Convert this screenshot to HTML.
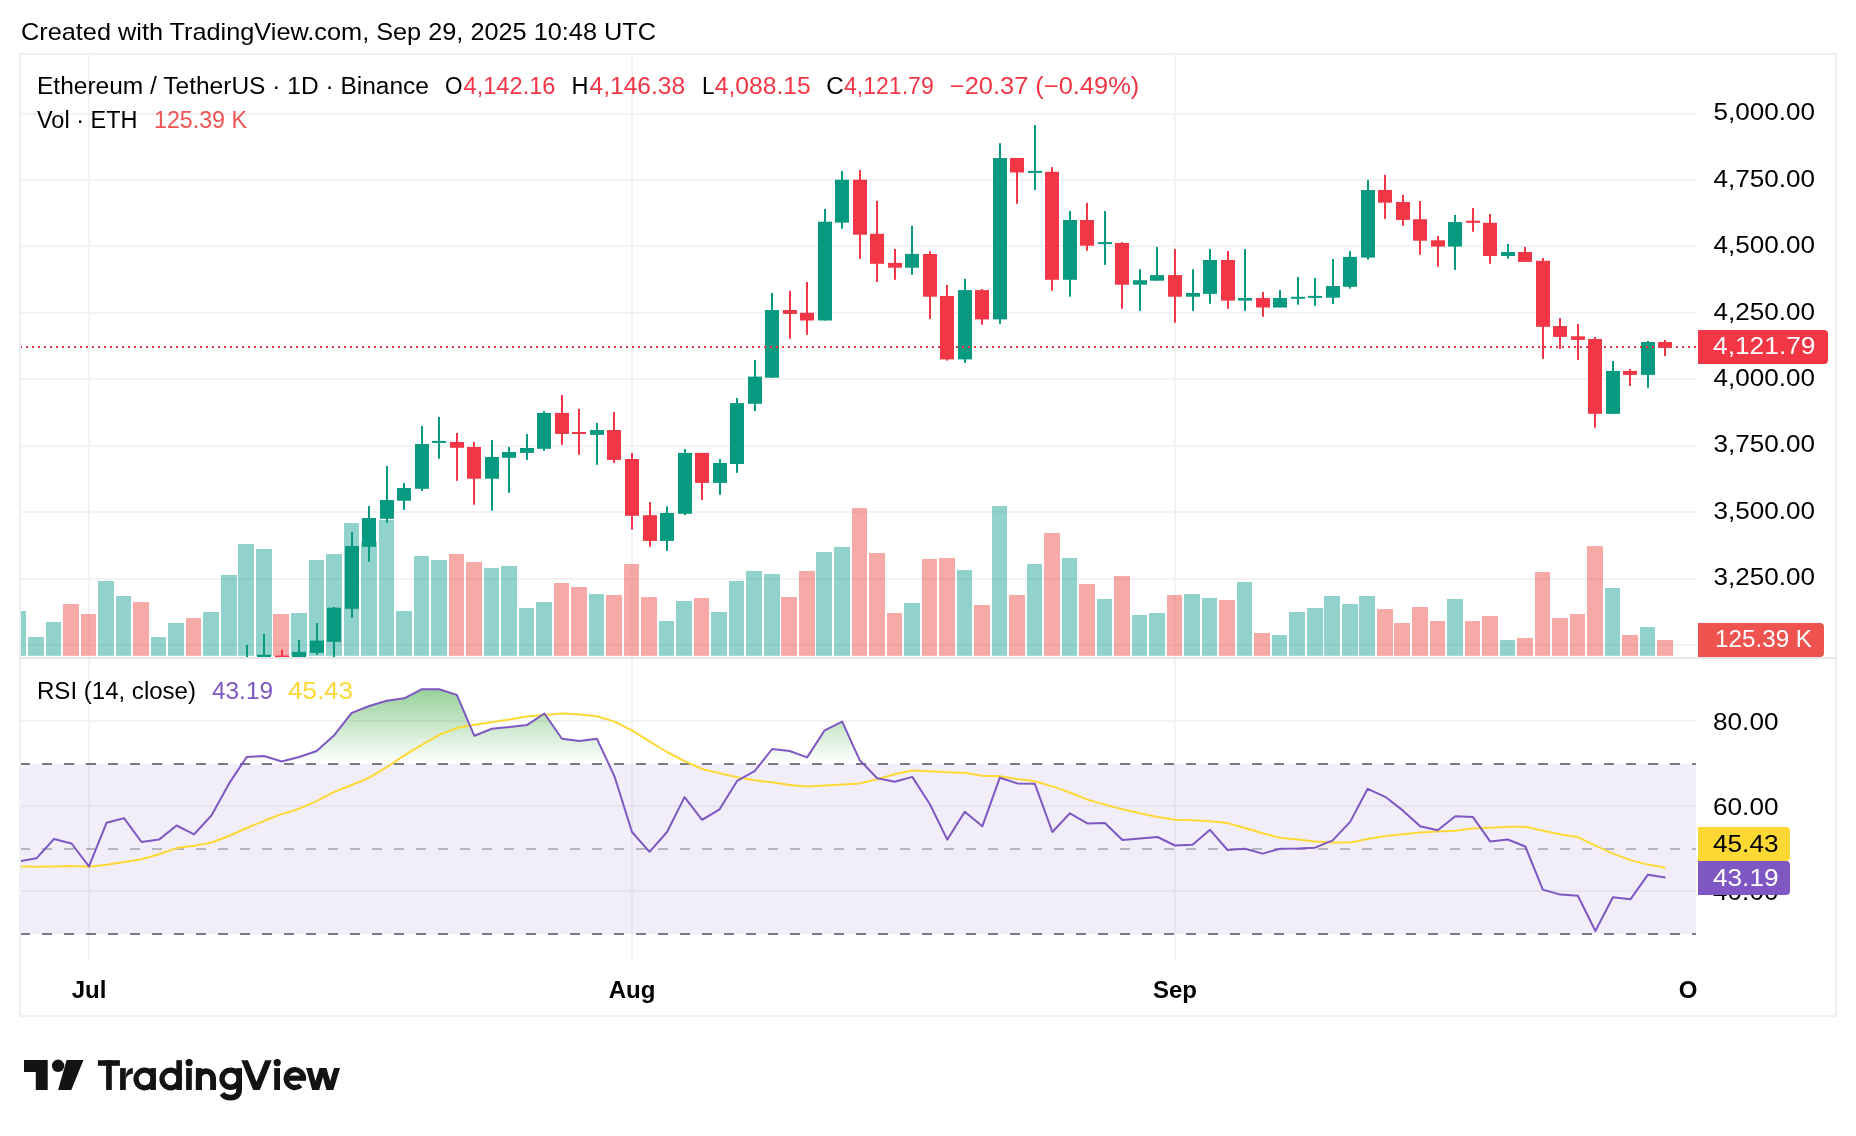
<!DOCTYPE html><html><head><meta charset="utf-8"><style>html,body{margin:0;padding:0;background:#fff;}svg{display:block;will-change:transform;}</style></head><body>
<svg width="1856" height="1136" viewBox="0 0 1856 1136" font-family='"Liberation Sans", sans-serif'>
<rect width="1856" height="1136" fill="#fff"/>
<defs>
<clipPath id="cpMain"><rect x="21" y="55" width="1675" height="602"/></clipPath>
<clipPath id="cpRsi"><rect x="21" y="659" width="1675" height="300"/></clipPath>
<clipPath id="cpOB"><rect x="21" y="600" width="1675" height="164"/></clipPath>
<linearGradient id="gOB" gradientUnits="userSpaceOnUse" x1="0" y1="636.0" x2="0" y2="763.4"><stop offset="0" stop-color="#4CAF50" stop-opacity="1"/><stop offset="1" stop-color="#4CAF50" stop-opacity="0"/></linearGradient>
</defs>
<text x="21" y="40" font-size="24" fill="#000000" textLength="635" lengthAdjust="spacingAndGlyphs">Created with TradingView.com, Sep 29, 2025 10:48 UTC</text>
<rect x="20" y="54" width="1816" height="962" fill="none" stroke="#F0F0F0" stroke-width="2"/>
<g clip-path="url(#cpMain)">
<rect x="20" y="113" width="1676" height="2" fill="#F2F2F3"/>
<rect x="20" y="179" width="1676" height="2" fill="#F2F2F3"/>
<rect x="20" y="245" width="1676" height="2" fill="#F2F2F3"/>
<rect x="20" y="312" width="1676" height="2" fill="#F2F2F3"/>
<rect x="20" y="378" width="1676" height="2" fill="#F2F2F3"/>
<rect x="20" y="445" width="1676" height="2" fill="#F2F2F3"/>
<rect x="20" y="511" width="1676" height="2" fill="#F2F2F3"/>
<rect x="20" y="578" width="1676" height="2" fill="#F2F2F3"/>
<rect x="20" y="644" width="1676" height="2" fill="#F2F2F3"/>
<rect x="88" y="54" width="2" height="604" fill="#F2F2F3"/>
<rect x="631" y="54" width="2" height="604" fill="#F2F2F3"/>
<rect x="1174" y="54" width="2" height="604" fill="#F2F2F3"/>
<rect x="11" y="611" width="15" height="44.8" fill="rgba(38,166,154,0.5)"/>
<rect x="28" y="637" width="16" height="18.8" fill="rgba(38,166,154,0.5)"/>
<rect x="46" y="622" width="15" height="33.8" fill="rgba(38,166,154,0.5)"/>
<rect x="63" y="604" width="16" height="51.8" fill="rgba(239,83,80,0.5)"/>
<rect x="81" y="614" width="15" height="41.8" fill="rgba(239,83,80,0.5)"/>
<rect x="98" y="581" width="16" height="74.8" fill="rgba(38,166,154,0.5)"/>
<rect x="116" y="596" width="15" height="59.8" fill="rgba(38,166,154,0.5)"/>
<rect x="133" y="602" width="16" height="53.8" fill="rgba(239,83,80,0.5)"/>
<rect x="151" y="637" width="15" height="18.8" fill="rgba(38,166,154,0.5)"/>
<rect x="168" y="623" width="16" height="32.8" fill="rgba(38,166,154,0.5)"/>
<rect x="186" y="618" width="15" height="37.8" fill="rgba(239,83,80,0.5)"/>
<rect x="203" y="612" width="16" height="43.8" fill="rgba(38,166,154,0.5)"/>
<rect x="221" y="575" width="16" height="80.8" fill="rgba(38,166,154,0.5)"/>
<rect x="238" y="544" width="16" height="111.8" fill="rgba(38,166,154,0.5)"/>
<rect x="256" y="549" width="16" height="106.8" fill="rgba(38,166,154,0.5)"/>
<rect x="273" y="614" width="16" height="41.8" fill="rgba(239,83,80,0.5)"/>
<rect x="291" y="613" width="16" height="42.8" fill="rgba(38,166,154,0.5)"/>
<rect x="309" y="560" width="15" height="95.8" fill="rgba(38,166,154,0.5)"/>
<rect x="326" y="554" width="16" height="101.8" fill="rgba(38,166,154,0.5)"/>
<rect x="344" y="523" width="15" height="132.8" fill="rgba(38,166,154,0.5)"/>
<rect x="361" y="542" width="16" height="113.8" fill="rgba(38,166,154,0.5)"/>
<rect x="379" y="520" width="15" height="135.8" fill="rgba(38,166,154,0.5)"/>
<rect x="396" y="611" width="16" height="44.8" fill="rgba(38,166,154,0.5)"/>
<rect x="414" y="556" width="15" height="99.8" fill="rgba(38,166,154,0.5)"/>
<rect x="431" y="560" width="16" height="95.8" fill="rgba(38,166,154,0.5)"/>
<rect x="449" y="554" width="15" height="101.8" fill="rgba(239,83,80,0.5)"/>
<rect x="466" y="562" width="16" height="93.8" fill="rgba(239,83,80,0.5)"/>
<rect x="484" y="568" width="15" height="87.8" fill="rgba(38,166,154,0.5)"/>
<rect x="501" y="566" width="16" height="89.8" fill="rgba(38,166,154,0.5)"/>
<rect x="519" y="608" width="15" height="47.8" fill="rgba(38,166,154,0.5)"/>
<rect x="536" y="602" width="16" height="53.8" fill="rgba(38,166,154,0.5)"/>
<rect x="554" y="583" width="15" height="72.8" fill="rgba(239,83,80,0.5)"/>
<rect x="571" y="587" width="16" height="68.8" fill="rgba(239,83,80,0.5)"/>
<rect x="589" y="594" width="15" height="61.8" fill="rgba(38,166,154,0.5)"/>
<rect x="606" y="595" width="16" height="60.8" fill="rgba(239,83,80,0.5)"/>
<rect x="624" y="564" width="15" height="91.8" fill="rgba(239,83,80,0.5)"/>
<rect x="641" y="597" width="16" height="58.8" fill="rgba(239,83,80,0.5)"/>
<rect x="659" y="621" width="15" height="34.8" fill="rgba(38,166,154,0.5)"/>
<rect x="676" y="601" width="16" height="54.8" fill="rgba(38,166,154,0.5)"/>
<rect x="694" y="598" width="15" height="57.8" fill="rgba(239,83,80,0.5)"/>
<rect x="711" y="612" width="16" height="43.8" fill="rgba(38,166,154,0.5)"/>
<rect x="729" y="581" width="15" height="74.8" fill="rgba(38,166,154,0.5)"/>
<rect x="746" y="571" width="16" height="84.8" fill="rgba(38,166,154,0.5)"/>
<rect x="764" y="574" width="16" height="81.8" fill="rgba(38,166,154,0.5)"/>
<rect x="781" y="597" width="16" height="58.8" fill="rgba(239,83,80,0.5)"/>
<rect x="799" y="571" width="16" height="84.8" fill="rgba(239,83,80,0.5)"/>
<rect x="816" y="552" width="16" height="103.8" fill="rgba(38,166,154,0.5)"/>
<rect x="834" y="547" width="16" height="108.8" fill="rgba(38,166,154,0.5)"/>
<rect x="852" y="508" width="15" height="147.8" fill="rgba(239,83,80,0.5)"/>
<rect x="869" y="553" width="16" height="102.8" fill="rgba(239,83,80,0.5)"/>
<rect x="887" y="613" width="15" height="42.8" fill="rgba(239,83,80,0.5)"/>
<rect x="904" y="603" width="16" height="52.8" fill="rgba(38,166,154,0.5)"/>
<rect x="922" y="559" width="15" height="96.8" fill="rgba(239,83,80,0.5)"/>
<rect x="939" y="558" width="16" height="97.8" fill="rgba(239,83,80,0.5)"/>
<rect x="957" y="570" width="15" height="85.8" fill="rgba(38,166,154,0.5)"/>
<rect x="974" y="605" width="16" height="50.8" fill="rgba(239,83,80,0.5)"/>
<rect x="992" y="506" width="15" height="149.8" fill="rgba(38,166,154,0.5)"/>
<rect x="1009" y="595" width="16" height="60.8" fill="rgba(239,83,80,0.5)"/>
<rect x="1027" y="564" width="15" height="91.8" fill="rgba(38,166,154,0.5)"/>
<rect x="1044" y="533" width="16" height="122.8" fill="rgba(239,83,80,0.5)"/>
<rect x="1062" y="558" width="15" height="97.8" fill="rgba(38,166,154,0.5)"/>
<rect x="1079" y="584" width="16" height="71.8" fill="rgba(239,83,80,0.5)"/>
<rect x="1097" y="599" width="15" height="56.8" fill="rgba(38,166,154,0.5)"/>
<rect x="1114" y="576" width="16" height="79.8" fill="rgba(239,83,80,0.5)"/>
<rect x="1132" y="615" width="15" height="40.8" fill="rgba(38,166,154,0.5)"/>
<rect x="1149" y="613" width="16" height="42.8" fill="rgba(38,166,154,0.5)"/>
<rect x="1167" y="595" width="15" height="60.8" fill="rgba(239,83,80,0.5)"/>
<rect x="1184" y="594" width="16" height="61.8" fill="rgba(38,166,154,0.5)"/>
<rect x="1202" y="598" width="15" height="57.8" fill="rgba(38,166,154,0.5)"/>
<rect x="1219" y="600" width="16" height="55.8" fill="rgba(239,83,80,0.5)"/>
<rect x="1237" y="582" width="15" height="73.8" fill="rgba(38,166,154,0.5)"/>
<rect x="1254" y="633" width="16" height="22.8" fill="rgba(239,83,80,0.5)"/>
<rect x="1272" y="635" width="15" height="20.8" fill="rgba(38,166,154,0.5)"/>
<rect x="1289" y="612" width="16" height="43.8" fill="rgba(38,166,154,0.5)"/>
<rect x="1307" y="608" width="16" height="47.8" fill="rgba(38,166,154,0.5)"/>
<rect x="1324" y="596" width="16" height="59.8" fill="rgba(38,166,154,0.5)"/>
<rect x="1342" y="604" width="16" height="51.8" fill="rgba(38,166,154,0.5)"/>
<rect x="1359" y="596" width="16" height="59.8" fill="rgba(38,166,154,0.5)"/>
<rect x="1377" y="609" width="16" height="46.8" fill="rgba(239,83,80,0.5)"/>
<rect x="1394" y="623" width="16" height="32.8" fill="rgba(239,83,80,0.5)"/>
<rect x="1412" y="607" width="16" height="48.8" fill="rgba(239,83,80,0.5)"/>
<rect x="1430" y="621" width="15" height="34.8" fill="rgba(239,83,80,0.5)"/>
<rect x="1447" y="599" width="16" height="56.8" fill="rgba(38,166,154,0.5)"/>
<rect x="1465" y="621" width="15" height="34.8" fill="rgba(239,83,80,0.5)"/>
<rect x="1482" y="616" width="16" height="39.8" fill="rgba(239,83,80,0.5)"/>
<rect x="1500" y="640" width="15" height="15.8" fill="rgba(38,166,154,0.5)"/>
<rect x="1517" y="638" width="16" height="17.8" fill="rgba(239,83,80,0.5)"/>
<rect x="1535" y="572" width="15" height="83.8" fill="rgba(239,83,80,0.5)"/>
<rect x="1552" y="618" width="16" height="37.8" fill="rgba(239,83,80,0.5)"/>
<rect x="1570" y="614" width="15" height="41.8" fill="rgba(239,83,80,0.5)"/>
<rect x="1587" y="546" width="16" height="109.8" fill="rgba(239,83,80,0.5)"/>
<rect x="1605" y="588" width="15" height="67.8" fill="rgba(38,166,154,0.5)"/>
<rect x="1622" y="635" width="16" height="20.8" fill="rgba(239,83,80,0.5)"/>
<rect x="1640" y="627" width="15" height="28.8" fill="rgba(38,166,154,0.5)"/>
<rect x="1657" y="640" width="16" height="15.8" fill="rgba(239,83,80,0.5)"/>
<rect x="246" y="644.8" width="2" height="15.2" fill="#089981"/>
<rect x="240" y="660" width="14" height="2.0" fill="#089981"/>
<rect x="263" y="633.9" width="2" height="26.1" fill="#089981"/>
<rect x="257" y="654.8" width="14" height="5.2" fill="#089981"/>
<rect x="281" y="649.8" width="2" height="10.2" fill="#F23645"/>
<rect x="275" y="655.5" width="14" height="4.5" fill="#F23645"/>
<rect x="298" y="639.9" width="2" height="20.1" fill="#089981"/>
<rect x="292" y="651.9" width="14" height="8.1" fill="#089981"/>
<rect x="316" y="623" width="2" height="31.8" fill="#089981"/>
<rect x="310" y="640.6" width="14" height="12.3" fill="#089981"/>
<rect x="333" y="607" width="2" height="53.0" fill="#089981"/>
<rect x="327" y="607.7" width="14" height="34.1" fill="#089981"/>
<rect x="351" y="531.9" width="2" height="85.8" fill="#089981"/>
<rect x="345" y="546" width="14" height="62.8" fill="#089981"/>
<rect x="368" y="506" width="2" height="55.6" fill="#089981"/>
<rect x="362" y="518" width="14" height="28.8" fill="#089981"/>
<rect x="386" y="466" width="2" height="56.9" fill="#089981"/>
<rect x="380" y="500" width="14" height="18.8" fill="#089981"/>
<rect x="403" y="482.9" width="2" height="27.0" fill="#089981"/>
<rect x="397" y="488" width="14" height="12.7" fill="#089981"/>
<rect x="421" y="426" width="2" height="65.0" fill="#089981"/>
<rect x="415" y="444" width="14" height="44.8" fill="#089981"/>
<rect x="438" y="417" width="2" height="41.8" fill="#089981"/>
<rect x="432" y="440.9" width="14" height="2.0" fill="#089981"/>
<rect x="456" y="433" width="2" height="47.8" fill="#F23645"/>
<rect x="450" y="442" width="14" height="5.8" fill="#F23645"/>
<rect x="473" y="442" width="2" height="62.6" fill="#F23645"/>
<rect x="467" y="447" width="14" height="31.7" fill="#F23645"/>
<rect x="491" y="440" width="2" height="70.6" fill="#089981"/>
<rect x="485" y="457" width="14" height="21.7" fill="#089981"/>
<rect x="508" y="447" width="2" height="45.8" fill="#089981"/>
<rect x="502" y="452" width="14" height="5.8" fill="#089981"/>
<rect x="526" y="434" width="2" height="25.9" fill="#089981"/>
<rect x="520" y="448" width="14" height="4.9" fill="#089981"/>
<rect x="543" y="411" width="2" height="39.9" fill="#089981"/>
<rect x="537" y="412.9" width="14" height="35.9" fill="#089981"/>
<rect x="561" y="395" width="2" height="49.9" fill="#F23645"/>
<rect x="555" y="412.9" width="14" height="21.0" fill="#F23645"/>
<rect x="578" y="409" width="2" height="45.8" fill="#F23645"/>
<rect x="572" y="432" width="14" height="2.0" fill="#F23645"/>
<rect x="596" y="423" width="2" height="41.8" fill="#089981"/>
<rect x="590" y="430" width="14" height="4.9" fill="#089981"/>
<rect x="613" y="412" width="2" height="50.9" fill="#F23645"/>
<rect x="607" y="430" width="14" height="29.9" fill="#F23645"/>
<rect x="631" y="453.1" width="2" height="76.6" fill="#F23645"/>
<rect x="625" y="459" width="14" height="56.8" fill="#F23645"/>
<rect x="649" y="502.1" width="2" height="44.7" fill="#F23645"/>
<rect x="643" y="515.2" width="14" height="25.7" fill="#F23645"/>
<rect x="666" y="506.3" width="2" height="44.6" fill="#089981"/>
<rect x="660" y="513" width="14" height="27.9" fill="#089981"/>
<rect x="684" y="449.1" width="2" height="66.1" fill="#089981"/>
<rect x="678" y="452.9" width="14" height="60.9" fill="#089981"/>
<rect x="701" y="452.9" width="2" height="47.0" fill="#F23645"/>
<rect x="695" y="452.9" width="14" height="30.0" fill="#F23645"/>
<rect x="719" y="459" width="2" height="35.9" fill="#089981"/>
<rect x="713" y="463" width="14" height="19.9" fill="#089981"/>
<rect x="736" y="398.1" width="2" height="74.7" fill="#089981"/>
<rect x="730" y="403.1" width="14" height="60.9" fill="#089981"/>
<rect x="754" y="360.1" width="2" height="50.9" fill="#089981"/>
<rect x="748" y="376.6" width="14" height="27.2" fill="#089981"/>
<rect x="771" y="293" width="2" height="84.7" fill="#089981"/>
<rect x="765" y="310" width="14" height="67.7" fill="#089981"/>
<rect x="789" y="290.8" width="2" height="48.0" fill="#F23645"/>
<rect x="783" y="310" width="14" height="3.9" fill="#F23645"/>
<rect x="806" y="282" width="2" height="52.8" fill="#F23645"/>
<rect x="800" y="312.8" width="14" height="7.7" fill="#F23645"/>
<rect x="824" y="209" width="2" height="111.5" fill="#089981"/>
<rect x="818" y="221.7" width="14" height="98.8" fill="#089981"/>
<rect x="841" y="170.9" width="2" height="57.9" fill="#089981"/>
<rect x="835" y="179.7" width="14" height="42.9" fill="#089981"/>
<rect x="859" y="170" width="2" height="88.9" fill="#F23645"/>
<rect x="853" y="179.7" width="14" height="55.0" fill="#F23645"/>
<rect x="876" y="201" width="2" height="81.0" fill="#F23645"/>
<rect x="870" y="233.8" width="14" height="30.0" fill="#F23645"/>
<rect x="894" y="249" width="2" height="30.8" fill="#F23645"/>
<rect x="888" y="262.9" width="14" height="4.8" fill="#F23645"/>
<rect x="911" y="225.9" width="2" height="48.9" fill="#089981"/>
<rect x="905" y="253.9" width="14" height="13.8" fill="#089981"/>
<rect x="929" y="251.3" width="2" height="67.6" fill="#F23645"/>
<rect x="923" y="254" width="14" height="42.7" fill="#F23645"/>
<rect x="946" y="285" width="2" height="75.6" fill="#F23645"/>
<rect x="940" y="296" width="14" height="63.4" fill="#F23645"/>
<rect x="964" y="278.9" width="2" height="84.0" fill="#089981"/>
<rect x="958" y="290.1" width="14" height="69.3" fill="#089981"/>
<rect x="981" y="289" width="2" height="35.6" fill="#F23645"/>
<rect x="975" y="290.1" width="14" height="29.3" fill="#F23645"/>
<rect x="999" y="143.2" width="2" height="180.8" fill="#089981"/>
<rect x="993" y="158" width="14" height="161.4" fill="#089981"/>
<rect x="1016" y="158" width="2" height="45.8" fill="#F23645"/>
<rect x="1010" y="158" width="14" height="14.5" fill="#F23645"/>
<rect x="1034" y="125.1" width="2" height="65.0" fill="#089981"/>
<rect x="1028" y="170.9" width="14" height="2.0" fill="#089981"/>
<rect x="1051" y="167.2" width="2" height="123.6" fill="#F23645"/>
<rect x="1045" y="171.8" width="14" height="108.0" fill="#F23645"/>
<rect x="1069" y="210.9" width="2" height="85.8" fill="#089981"/>
<rect x="1063" y="220" width="14" height="59.8" fill="#089981"/>
<rect x="1086" y="202.9" width="2" height="47.8" fill="#F23645"/>
<rect x="1080" y="220" width="14" height="25.7" fill="#F23645"/>
<rect x="1104" y="211.1" width="2" height="53.8" fill="#089981"/>
<rect x="1098" y="242.1" width="14" height="2.0" fill="#089981"/>
<rect x="1121" y="242.1" width="2" height="66.7" fill="#F23645"/>
<rect x="1115" y="243" width="14" height="41.7" fill="#F23645"/>
<rect x="1139" y="269.2" width="2" height="41.6" fill="#089981"/>
<rect x="1133" y="280.2" width="14" height="4.5" fill="#089981"/>
<rect x="1156" y="247" width="2" height="33.7" fill="#089981"/>
<rect x="1150" y="275.1" width="14" height="5.6" fill="#089981"/>
<rect x="1174" y="249.1" width="2" height="73.6" fill="#F23645"/>
<rect x="1168" y="275.1" width="14" height="21.6" fill="#F23645"/>
<rect x="1192" y="269.2" width="2" height="41.6" fill="#089981"/>
<rect x="1186" y="293" width="14" height="3.7" fill="#089981"/>
<rect x="1209" y="249.1" width="2" height="54.7" fill="#089981"/>
<rect x="1203" y="260" width="14" height="33.9" fill="#089981"/>
<rect x="1227" y="251" width="2" height="57.8" fill="#F23645"/>
<rect x="1221" y="260" width="14" height="40.6" fill="#F23645"/>
<rect x="1244" y="249.1" width="2" height="61.7" fill="#089981"/>
<rect x="1238" y="298" width="14" height="2.6" fill="#089981"/>
<rect x="1262" y="292" width="2" height="24.7" fill="#F23645"/>
<rect x="1256" y="298" width="14" height="9.5" fill="#F23645"/>
<rect x="1279" y="290.1" width="2" height="17.4" fill="#089981"/>
<rect x="1273" y="298" width="14" height="9.5" fill="#089981"/>
<rect x="1297" y="277" width="2" height="27.7" fill="#089981"/>
<rect x="1291" y="296.8" width="14" height="2.0" fill="#089981"/>
<rect x="1314" y="278" width="2" height="27.8" fill="#089981"/>
<rect x="1308" y="295.9" width="14" height="2.0" fill="#089981"/>
<rect x="1332" y="259" width="2" height="45.0" fill="#089981"/>
<rect x="1326" y="286" width="14" height="11.7" fill="#089981"/>
<rect x="1349" y="251.1" width="2" height="37.5" fill="#089981"/>
<rect x="1343" y="256.9" width="14" height="29.9" fill="#089981"/>
<rect x="1367" y="180" width="2" height="79.7" fill="#089981"/>
<rect x="1361" y="190" width="14" height="67.6" fill="#089981"/>
<rect x="1384" y="174.8" width="2" height="44.1" fill="#F23645"/>
<rect x="1378" y="190" width="14" height="12.7" fill="#F23645"/>
<rect x="1402" y="194.9" width="2" height="30.9" fill="#F23645"/>
<rect x="1396" y="202" width="14" height="17.9" fill="#F23645"/>
<rect x="1419" y="201" width="2" height="53.8" fill="#F23645"/>
<rect x="1413" y="219.2" width="14" height="21.5" fill="#F23645"/>
<rect x="1437" y="236" width="2" height="30.8" fill="#F23645"/>
<rect x="1431" y="240.3" width="14" height="6.3" fill="#F23645"/>
<rect x="1454" y="214.9" width="2" height="55.0" fill="#089981"/>
<rect x="1448" y="222" width="14" height="24.6" fill="#089981"/>
<rect x="1472" y="208" width="2" height="23.7" fill="#F23645"/>
<rect x="1466" y="220.7" width="14" height="2.1" fill="#F23645"/>
<rect x="1489" y="214" width="2" height="49.8" fill="#F23645"/>
<rect x="1483" y="222.8" width="14" height="33.2" fill="#F23645"/>
<rect x="1507" y="244" width="2" height="14.7" fill="#089981"/>
<rect x="1501" y="252" width="14" height="4.0" fill="#089981"/>
<rect x="1524" y="246.9" width="2" height="15.0" fill="#F23645"/>
<rect x="1518" y="252" width="14" height="9.9" fill="#F23645"/>
<rect x="1542" y="258.1" width="2" height="100.8" fill="#F23645"/>
<rect x="1536" y="260.8" width="14" height="66.0" fill="#F23645"/>
<rect x="1559" y="317.9" width="2" height="31.1" fill="#F23645"/>
<rect x="1553" y="326.1" width="14" height="10.8" fill="#F23645"/>
<rect x="1577" y="324" width="2" height="35.9" fill="#F23645"/>
<rect x="1571" y="336.3" width="14" height="3.6" fill="#F23645"/>
<rect x="1594" y="337" width="2" height="90.7" fill="#F23645"/>
<rect x="1588" y="339" width="14" height="74.8" fill="#F23645"/>
<rect x="1612" y="361" width="2" height="52.8" fill="#089981"/>
<rect x="1606" y="370.9" width="14" height="42.9" fill="#089981"/>
<rect x="1629" y="369" width="2" height="16.9" fill="#F23645"/>
<rect x="1623" y="370.9" width="14" height="4.0" fill="#F23645"/>
<rect x="1647" y="341" width="2" height="46.9" fill="#089981"/>
<rect x="1641" y="342" width="14" height="32.9" fill="#089981"/>
<rect x="1664" y="340" width="2" height="16.0" fill="#F23645"/>
<rect x="1658" y="342" width="14" height="5.9" fill="#F23645"/>
<line x1="20" y1="347" x2="1696" y2="347" stroke="#F23645" stroke-width="2" stroke-dasharray="2 4"/>
</g>
<rect x="20" y="657" width="1816" height="2" fill="#E6E6E6"/>
<g clip-path="url(#cpRsi)">
<rect x="20" y="720" width="1676" height="2" fill="#F2F2F3"/>
<rect x="20" y="805" width="1676" height="2" fill="#F2F2F3"/>
<rect x="20" y="890" width="1676" height="2" fill="#F2F2F3"/>
<rect x="88" y="659" width="2" height="300" fill="#F2F2F3"/>
<rect x="631" y="659" width="2" height="300" fill="#F2F2F3"/>
<rect x="1174" y="659" width="2" height="300" fill="#F2F2F3"/>
<rect x="20" y="764.00" width="1676" height="170.00" fill="rgba(126,87,194,0.1)"/>
<line x1="20" y1="764.00" x2="1696" y2="764.00" stroke="#787B86" stroke-width="2" stroke-dasharray="10 12"/>
<line x1="20" y1="934.00" x2="1696" y2="934.00" stroke="#787B86" stroke-width="2" stroke-dasharray="10 12"/>
<line x1="20" y1="849.00" x2="1696" y2="849.00" stroke="rgba(120,123,134,0.5)" stroke-width="2" stroke-dasharray="10 12"/>
<g clip-path="url(#cpOB)"><polygon points="18.94,764.00 18.94,861.30 36.45,858.30 53.97,839.00 71.48,843.50 89.00,866.40 106.52,822.80 124.03,818.20 141.55,842.00 159.06,839.60 176.58,825.50 194.10,834.40 211.61,815.30 229.13,783.40 246.64,757.00 264.16,756.00 281.68,761.50 299.19,757.00 316.71,751.00 334.22,735.20 351.74,712.90 369.26,706.00 386.77,700.80 404.29,698.30 421.80,689.20 439.32,689.20 456.84,694.90 474.35,735.80 491.87,728.70 509.38,727.10 526.90,725.10 544.42,713.50 561.93,738.80 579.45,740.90 596.96,738.80 614.48,776.30 632.00,832.00 649.51,851.80 667.03,832.00 684.54,797.10 702.06,819.80 719.58,809.30 737.09,780.90 754.61,771.20 772.12,749.00 789.64,751.00 807.16,757.40 824.67,730.30 842.19,721.60 859.70,760.10 877.22,778.30 894.74,781.70 912.25,776.90 929.77,804.00 947.28,839.60 964.80,811.70 982.32,826.30 999.83,777.70 1017.35,783.40 1034.86,783.80 1052.38,832.00 1069.90,813.30 1087.41,823.40 1104.93,823.00 1122.44,840.00 1139.96,838.40 1157.48,837.00 1174.99,845.50 1192.51,844.80 1210.02,829.80 1227.54,850.00 1245.06,848.80 1262.57,853.60 1280.09,848.80 1297.60,848.60 1315.12,847.70 1332.64,840.40 1350.15,821.90 1367.67,788.80 1385.18,796.80 1402.70,810.40 1420.22,826.30 1437.73,830.30 1455.25,816.20 1472.76,816.90 1490.28,841.60 1507.80,839.50 1525.31,846.50 1542.83,889.60 1560.34,894.60 1577.86,895.80 1595.38,931.00 1612.89,897.20 1630.41,899.30 1647.92,874.70 1665.44,877.50 1665.44,764.00" fill="url(#gOB)"/></g>
<polyline points="18.94,866.40 36.45,866.80 53.97,866.40 71.48,866.00 89.00,866.80 106.52,864.70 124.03,861.90 141.55,859.30 159.06,854.20 176.58,848.10 194.10,845.70 211.61,842.50 229.13,836.00 246.64,828.00 264.16,820.80 281.68,814.10 299.19,808.70 316.71,801.20 334.22,791.90 351.74,785.00 369.26,777.70 386.77,767.20 404.29,755.40 421.80,744.90 439.32,734.80 456.84,728.10 474.35,724.70 491.87,722.20 509.38,719.60 526.90,716.60 544.42,714.90 561.93,713.50 579.45,714.50 596.96,716.20 614.48,721.60 632.00,730.30 649.51,741.30 667.03,752.00 684.54,761.10 702.06,769.00 719.58,773.20 737.09,777.30 754.61,780.30 772.12,782.30 789.64,785.00 807.16,786.40 824.67,785.40 842.19,784.40 859.70,783.40 877.22,779.30 894.74,774.30 912.25,770.60 929.77,771.20 947.28,772.20 964.80,772.80 982.32,775.70 999.83,776.30 1017.35,778.90 1034.86,781.30 1052.38,786.40 1069.90,792.50 1087.41,799.60 1104.93,804.60 1122.44,809.30 1139.96,813.30 1157.48,817.00 1174.99,819.80 1192.51,820.30 1210.02,821.30 1227.54,823.10 1245.06,828.00 1262.57,833.30 1280.09,837.70 1297.60,839.50 1315.12,841.60 1332.64,842.50 1350.15,842.50 1367.67,839.00 1385.18,836.00 1402.70,834.20 1420.22,832.40 1437.73,831.50 1455.25,830.70 1472.76,828.40 1490.28,827.70 1507.80,826.80 1525.31,826.80 1542.83,830.70 1560.34,834.20 1577.86,837.20 1595.38,845.60 1612.89,853.60 1630.41,860.10 1647.92,864.60 1665.44,867.70" fill="none" stroke="#FDD835" stroke-width="2" stroke-linejoin="round"/>
<polyline points="18.94,861.30 36.45,858.30 53.97,839.00 71.48,843.50 89.00,866.40 106.52,822.80 124.03,818.20 141.55,842.00 159.06,839.60 176.58,825.50 194.10,834.40 211.61,815.30 229.13,783.40 246.64,757.00 264.16,756.00 281.68,761.50 299.19,757.00 316.71,751.00 334.22,735.20 351.74,712.90 369.26,706.00 386.77,700.80 404.29,698.30 421.80,689.20 439.32,689.20 456.84,694.90 474.35,735.80 491.87,728.70 509.38,727.10 526.90,725.10 544.42,713.50 561.93,738.80 579.45,740.90 596.96,738.80 614.48,776.30 632.00,832.00 649.51,851.80 667.03,832.00 684.54,797.10 702.06,819.80 719.58,809.30 737.09,780.90 754.61,771.20 772.12,749.00 789.64,751.00 807.16,757.40 824.67,730.30 842.19,721.60 859.70,760.10 877.22,778.30 894.74,781.70 912.25,776.90 929.77,804.00 947.28,839.60 964.80,811.70 982.32,826.30 999.83,777.70 1017.35,783.40 1034.86,783.80 1052.38,832.00 1069.90,813.30 1087.41,823.40 1104.93,823.00 1122.44,840.00 1139.96,838.40 1157.48,837.00 1174.99,845.50 1192.51,844.80 1210.02,829.80 1227.54,850.00 1245.06,848.80 1262.57,853.60 1280.09,848.80 1297.60,848.60 1315.12,847.70 1332.64,840.40 1350.15,821.90 1367.67,788.80 1385.18,796.80 1402.70,810.40 1420.22,826.30 1437.73,830.30 1455.25,816.20 1472.76,816.90 1490.28,841.60 1507.80,839.50 1525.31,846.50 1542.83,889.60 1560.34,894.60 1577.86,895.80 1595.38,931.00 1612.89,897.20 1630.41,899.30 1647.92,874.70 1665.44,877.50" fill="none" stroke="#7E57C2" stroke-width="2" stroke-linejoin="round"/>
</g>
<text x="37" y="94" font-size="23.5" fill="#000000" textLength="392" lengthAdjust="spacingAndGlyphs">Ethereum / TetherUS · 1D · Binance</text>
<text x="445" y="94" font-size="23.5" fill="#000000" textLength="17.5" lengthAdjust="spacingAndGlyphs">O</text>
<text x="463.5" y="94" font-size="23.5" fill="#F23645" textLength="92" lengthAdjust="spacingAndGlyphs">4,142.16</text>
<text x="571.5" y="94" font-size="23.5" fill="#000000" textLength="17" lengthAdjust="spacingAndGlyphs">H</text>
<text x="589.5" y="94" font-size="23.5" fill="#F23645" textLength="95.7" lengthAdjust="spacingAndGlyphs">4,146.38</text>
<text x="702" y="94" font-size="23.5" fill="#000000" textLength="12.5" lengthAdjust="spacingAndGlyphs">L</text>
<text x="714.8" y="94" font-size="23.5" fill="#F23645" textLength="96" lengthAdjust="spacingAndGlyphs">4,088.15</text>
<text x="826.3" y="94" font-size="23.5" fill="#000000" textLength="17.5" lengthAdjust="spacingAndGlyphs">C</text>
<text x="844" y="94" font-size="23.5" fill="#F23645" textLength="89.7" lengthAdjust="spacingAndGlyphs">4,121.79</text>
<text x="949.8" y="94" font-size="23.5" fill="#F23645" textLength="189.5" lengthAdjust="spacingAndGlyphs">−20.37 (−0.49%)</text>
<text x="37" y="128" font-size="23.5" fill="#000000" textLength="100.5" lengthAdjust="spacingAndGlyphs">Vol · ETH</text>
<text x="154" y="128" font-size="23.5" fill="#F05353" textLength="93" lengthAdjust="spacingAndGlyphs">125.39 K</text>
<text x="37" y="699" font-size="23.5" fill="#000000" textLength="159" lengthAdjust="spacingAndGlyphs">RSI (14, close)</text>
<text x="212" y="699" font-size="23.5" fill="#7E57C2" textLength="61" lengthAdjust="spacingAndGlyphs">43.19</text>
<text x="288" y="699" font-size="23.5" fill="#FDD835" textLength="65" lengthAdjust="spacingAndGlyphs">45.43</text>
<text x="1713.5" y="120.3" font-size="24" fill="#000000" textLength="101.5" lengthAdjust="spacingAndGlyphs">5,000.00</text>
<text x="1713.5" y="186.7" font-size="24" fill="#000000" textLength="101.5" lengthAdjust="spacingAndGlyphs">4,750.00</text>
<text x="1713.5" y="253.1" font-size="24" fill="#000000" textLength="101.5" lengthAdjust="spacingAndGlyphs">4,500.00</text>
<text x="1713.5" y="319.5" font-size="24" fill="#000000" textLength="101.5" lengthAdjust="spacingAndGlyphs">4,250.00</text>
<text x="1713.5" y="386.0" font-size="24" fill="#000000" textLength="101.5" lengthAdjust="spacingAndGlyphs">4,000.00</text>
<text x="1713.5" y="452.4" font-size="24" fill="#000000" textLength="101.5" lengthAdjust="spacingAndGlyphs">3,750.00</text>
<text x="1713.5" y="518.8" font-size="24" fill="#000000" textLength="101.5" lengthAdjust="spacingAndGlyphs">3,500.00</text>
<text x="1713.5" y="585.2" font-size="24" fill="#000000" textLength="101.5" lengthAdjust="spacingAndGlyphs">3,250.00</text>
<path d="M1698,330 H1824 Q1828,330 1828,334 V360 Q1828,364 1824,364 H1698 Z" fill="#F23645"/>
<text x="1713" y="354" font-size="24" fill="#fff" textLength="102.5" lengthAdjust="spacingAndGlyphs">4,121.79</text>
<path d="M1698,623 H1820 Q1824,623 1824,627 V653 Q1824,657 1820,657 H1698 Z" fill="#EF5350"/>
<text x="1715" y="647" font-size="24" fill="#fff" textLength="97" lengthAdjust="spacingAndGlyphs">125.39 K</text>
<text x="1713" y="729.8" font-size="24" fill="#000000" textLength="65.5" lengthAdjust="spacingAndGlyphs">80.00</text>
<text x="1713" y="814.8" font-size="24" fill="#000000" textLength="65.5" lengthAdjust="spacingAndGlyphs">60.00</text>
<text x="1713" y="899.8" font-size="24" fill="#000000" textLength="65.5" lengthAdjust="spacingAndGlyphs">40.00</text>
<path d="M1698,827 H1786 Q1790,827 1790,831 V857 Q1790,861 1786,861 H1698 Z" fill="#FDD835"/>
<text x="1713" y="852" font-size="24" fill="#000000" textLength="65.5" lengthAdjust="spacingAndGlyphs">45.43</text>
<path d="M1698,861 H1786 Q1790,861 1790,865 V891 Q1790,895 1786,895 H1698 Z" fill="#7E57C2"/>
<text x="1713" y="886" font-size="24" fill="#fff" textLength="65.5" lengthAdjust="spacingAndGlyphs">43.19</text>
<text x="89" y="998" font-size="24" font-weight="bold" fill="#000000" text-anchor="middle">Jul</text>
<text x="632" y="998" font-size="24" font-weight="bold" fill="#000000" text-anchor="middle">Aug</text>
<text x="1175" y="998" font-size="24" font-weight="bold" fill="#000000" text-anchor="middle">Sep</text>
<text x="1688" y="998" font-size="24" font-weight="bold" fill="#000000" text-anchor="middle">O</text>
<g fill="#131313">
<circle cx="58.1" cy="1065.8" r="6.2"/>
<path d="M66.6,1060 H83.5 L71.3,1090 H58.1 Z"/>
</g>
<g fill="#131313">
<rect x="97.9" y="1060.2" width="22" height="5.6"/>
<rect x="106.1" y="1060.2" width="5.7" height="29.8"/>
<rect x="120.1" y="1068.1" width="5.7" height="21.9"/>
<path d="M125.8,1078 C125.8,1071.5 128.5,1068 132.8,1068 V1073.8 C129.2,1073.8 125.8,1076 125.8,1081 Z"/>
<ellipse cx="144.65" cy="1079" rx="8.58" ry="8.83" fill="none" stroke="#131313" stroke-width="5.3"/>
<rect x="150.3" y="1068.1" width="5.6" height="21.9"/>
<ellipse cx="170.6" cy="1079" rx="8.58" ry="8.83" fill="none" stroke="#131313" stroke-width="5.3"/>
<rect x="176.3" y="1060.2" width="5.6" height="29.8"/>
<circle cx="189.1" cy="1062.6" r="3.6"/>
<rect x="186.1" y="1068.1" width="5.7" height="21.9"/>
<rect x="195.9" y="1068.1" width="5.9" height="21.9"/>
<path d="M198.85,1090 V1078.2 A7.12,7.12 0 0 1 213.1,1078.2 V1090" fill="none" stroke="#131313" stroke-width="5.9"/>
<ellipse cx="230.65" cy="1078.7" rx="8.65" ry="8.55" fill="none" stroke="#131313" stroke-width="5.4"/>
<rect x="236.4" y="1068.1" width="5.6" height="22.5"/>
<path d="M239.2,1089 C239.2,1095.5 235.5,1097.6 230.6,1097.6 C226.5,1097.6 223.8,1096.2 222,1093.6" fill="none" stroke="#131313" stroke-width="5.6"/>
<polygon points="241.3,1060.2 247.9,1060.2 256.5,1081.7 265.1,1060.2 271.7,1060.2 259.8,1090 253.2,1090"/>
<circle cx="277.2" cy="1062.6" r="3.6"/>
<rect x="274.2" y="1068.1" width="5.8" height="21.9"/>
<path d="M303.5,1079 A8.65,8.95 0 1 0 300.6,1085.3" fill="none" stroke="#131313" stroke-width="5.2"/>
<rect x="288.5" y="1075.6" width="17.6" height="5.2"/>
<polygon points="306.1,1068 312,1068 315.4,1081 319.5,1068 326.4,1068 330.2,1081 334,1068 340,1068 333.4,1090 326.4,1090 322.9,1077 319.2,1090 312.2,1090"/>
</g>
<path d="M24,1060 H47.7 V1090 H35.8 V1072 H24 Z" fill="#131313"/>
</svg></body></html>
